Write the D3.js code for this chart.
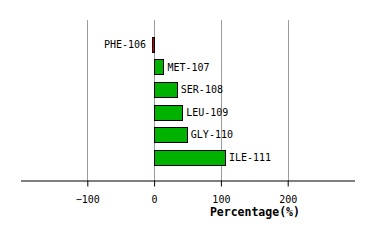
<!DOCTYPE html>
<html>
<head>
<meta charset="utf-8">
<script src="https://cdn.jsdelivr.net/npm/d3@7"></script>
<style>
  body { margin: 0; background: #fff; }
  text { font-family: "DejaVu Sans Mono", monospace; }
</style>
</head>
<body>
<script>
// residue labels and their percentage values
const residues = ["PHE-106", "MET-107", "SER-108", "LEU-109", "GLY-110", "ILE-111"];
const percents = [-3, 14, 34, 42, 49, 106];
const xTicks = [-100, 0, 100, 200];

const w = 374, h = 240;

const svg = d3.select("body").append("svg")
  .attr("width", w)
  .attr("height", h);

const x = d3.scaleLinear()
  .domain([-200, 300])
  .range([20.5, 354.5]);

const y = d3.scaleBand()
  .domain(residues)
  .range([29.5, 172.5])
  .paddingInner(0.32)
  .paddingOuter(0.32);

const axisY = 180.5;

// vertical grid lines
svg.append("g")
  .selectAll("line")
  .data(xTicks)
  .enter()
  .append("line")
  .attr("x1", d => Math.round(x(d)) + 0.5)
  .attr("x2", d => Math.round(x(d)) + 0.5)
  .attr("y1", 20)
  .attr("y2", axisY)
  .attr("stroke", "#9c9c9c")
  .attr("stroke-width", 1);

// bars
const data = residues.map((r, i) => ({ name: r, value: percents[i] }));

svg.append("g")
  .selectAll("rect")
  .data(data)
  .enter()
  .append("rect")
  .attr("x", d => Math.round(x(Math.min(0, d.value))) + 0.5)
  .attr("y", d => Math.round(y(d.name)) + 0.5)
  .attr("width", d => Math.max(1, Math.round(Math.abs(x(d.value) - x(0)))))
  .attr("height", Math.round(y.bandwidth()))
  .attr("fill", d => d.value < 0 ? "#cc0000" : "#00b200")
  .attr("stroke", "#000")
  .attr("stroke-width", 1);

// bar labels
svg.append("g")
  .selectAll("text")
  .data(data)
  .enter()
  .append("text")
  .attr("x", d => d.value < 0 ? x(d.value) - 6 : x(d.value) + 4)
  .attr("y", d => y(d.name) + y.bandwidth() / 2)
  .attr("dy", "0.35em")
  .attr("text-anchor", d => d.value < 0 ? "end" : "start")
  .attr("font-size", "10px")
  .attr("fill", "#000")
  .text(d => d.name);

// x axis
const xAxis = svg.append("g")
  .attr("transform", `translate(0, ${axisY})`)
  .call(d3.axisBottom(x)
    .tickValues(xTicks)
    .tickSize(6)
    .tickSizeOuter(0)
    .tickPadding(9));

xAxis.select(".domain").attr("stroke", "#000");
xAxis.selectAll(".tick line").attr("stroke", "#000");
xAxis.selectAll(".tick text")
  .attr("font-family", "DejaVu Sans Mono, monospace")
  .attr("font-size", "10px")
  .attr("fill", "#000");

// axis title
svg.append("text")
  .attr("x", x(100) + 34)
  .attr("y", 216)
  .attr("text-anchor", "middle")
  .attr("font-size", "11.5px")
  .attr("font-weight", "bold")
  .text("Percentage(%)");
</script>
</body>
</html>
